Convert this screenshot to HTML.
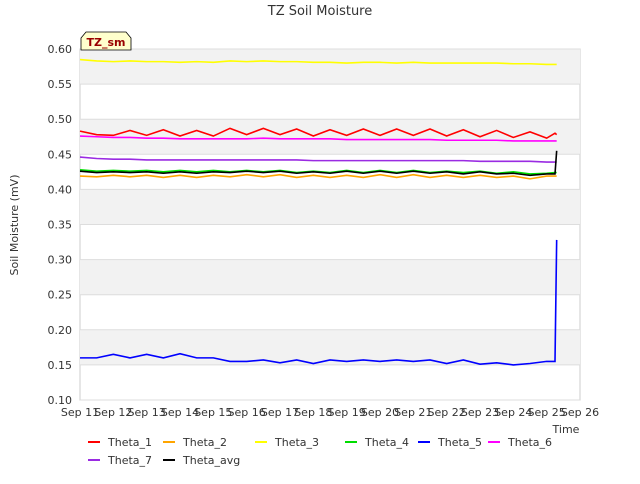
<!DOCTYPE html>
<html><head><meta charset="utf-8"><style>body{margin:0;background:#fff;font-family:"DejaVu Sans","Liberation Sans",sans-serif}</style></head>
<body>
<svg id="c" width="640" height="480" font-family="DejaVu Sans, Liberation Sans, sans-serif"></svg>
<script>
const times=[11,11.5,12,12.5,13,13.5,14,14.5,15,15.5,16,16.5,17,17.5,18,18.5,19,19.5,20,20.5,21,21.5,22,22.5,23,23.5,24,24.5,25,25.25,25.3];
const theta1=[0.483,0.478,0.477,0.484,0.477,0.485,0.476,0.484,0.476,0.487,0.478,0.487,0.478,0.486,0.476,0.485,0.477,0.486,0.477,0.486,0.477,0.486,0.476,0.485,0.475,0.484,0.474,0.482,0.473,0.480,0.478];
const theta2=[0.419,0.418,0.420,0.418,0.420,0.417,0.420,0.417,0.420,0.418,0.421,0.418,0.421,0.417,0.420,0.417,0.420,0.417,0.421,0.417,0.421,0.417,0.420,0.417,0.420,0.417,0.419,0.415,0.419,0.419,0.419];
const theta3=[0.585,0.583,0.582,0.583,0.582,0.582,0.581,0.582,0.581,0.583,0.582,0.583,0.582,0.582,0.581,0.581,0.580,0.581,0.581,0.580,0.581,0.580,0.580,0.580,0.580,0.580,0.579,0.579,0.578,0.578,0.578];
const theta4=[0.428,0.426,0.427,0.426,0.427,0.425,0.427,0.425,0.427,0.425,0.427,0.425,0.427,0.424,0.426,0.424,0.427,0.424,0.427,0.424,0.427,0.424,0.426,0.424,0.426,0.423,0.425,0.422,0.423,0.424,0.424];
const theta5=[0.160,0.160,0.165,0.160,0.165,0.160,0.166,0.160,0.160,0.155,0.155,0.157,0.153,0.157,0.152,0.157,0.155,0.157,0.155,0.157,0.155,0.157,0.152,0.157,0.151,0.153,0.150,0.152,0.155,0.155,0.328];
const theta6=[0.476,0.475,0.474,0.474,0.473,0.473,0.472,0.472,0.472,0.472,0.472,0.473,0.472,0.472,0.472,0.472,0.471,0.471,0.471,0.471,0.471,0.471,0.470,0.470,0.470,0.470,0.469,0.469,0.469,0.469,0.469];
const theta7=[0.446,0.444,0.443,0.443,0.442,0.442,0.442,0.442,0.442,0.442,0.442,0.442,0.442,0.442,0.441,0.441,0.441,0.441,0.441,0.441,0.441,0.441,0.441,0.441,0.440,0.440,0.440,0.440,0.439,0.439,0.439];
const thetaAvg=[0.426,0.424,0.425,0.424,0.425,0.423,0.425,0.423,0.425,0.424,0.426,0.424,0.426,0.423,0.425,0.423,0.426,0.423,0.426,0.423,0.426,0.423,0.425,0.422,0.425,0.422,0.423,0.420,0.422,0.422,0.455];
const yTicks=[0.10,0.15,0.20,0.25,0.30,0.35,0.40,0.45,0.50,0.55,0.60];
const xTicks=[11,12,13,14,15,16,17,18,19,20,21,22,23,24,25,26];
const series=[["Theta_1",theta1,"#ff0000"],["Theta_2",theta2,"#ffa500"],["Theta_3",theta3,"#ffff00"],["Theta_4",theta4,"#00dd00"],["Theta_5",theta5,"#0000ff"],["Theta_6",theta6,"#ff00ff"],["Theta_7",theta7,"#9a2be2"],["Theta_avg",thetaAvg,"#000000"]];
const L=80,R=580,T=49,B=400;
const X=t=>L+(t-11)/15*(R-L), Y=v=>B-(v-0.10)/0.5*(B-T);
const svg=document.getElementById('c'),NS='http://www.w3.org/2000/svg';
function mk(tag,a,p){const e=document.createElementNS(NS,tag);for(const k in a)e.setAttribute(k,a[k]);(p||svg).appendChild(e);return e;}
const plot=mk('rect',{x:L,y:T,width:R-L,height:B-T,fill:'#fff',stroke:'#ccc'});


for(let i=0;i<yTicks.length-1;i++){if(i%2===1){const r=mk('rect',{x:L,y:Y(yTicks[i+1]),width:R-L,height:Y(yTicks[i])-Y(yTicks[i+1]),fill:'#f2f2f2'});}}
yTicks.forEach(v=>{const g=mk('line',{x1:L,x2:R,y1:Y(v),y2:Y(v),stroke:'#ddd'});
const t=mk('text',{x:L-8,y:Y(v)+4,'text-anchor':'end','font-size':11,fill:'#333'});t.textContent=v.toFixed(2);});
xTicks.forEach(d=>{const t=mk('text',{x:X(d),y:B+16,'text-anchor':'middle','font-size':11,fill:'#333'});t.textContent='Sep '+d;});
series.forEach(([n,vals,c])=>{const p=mk('polyline',{points:vals.map((v,i)=>X(times[i])+','+Y(v)).join(' '),fill:'none',stroke:c,'stroke-width':1.6});});
const bx=mk('path',{d:'M81,50 L81,38 L86,32 L126,32 L131,38 L131,50 Z',fill:'#ffffcc',stroke:'#000','stroke-width':0.8});
const st=mk('text',{x:106,y:46,'text-anchor':'middle','font-size':11,'font-weight':'bold',fill:'#990000'});st.textContent='TZ_sm';
const ti=mk('text',{x:320,y:15,'text-anchor':'middle','font-size':13,fill:'#333'});ti.textContent='TZ Soil Moisture';
const yt=mk('text',{x:18,y:225,'text-anchor':'middle','font-size':11,fill:'#333',transform:'rotate(-90 18 225)'});yt.textContent='Soil Moisture (mV)';
const xt=mk('text',{x:566,y:433,'text-anchor':'middle','font-size':11,fill:'#333'});xt.textContent='Time';
const lx=[88,163,255,345,418,488,88,163];
series.forEach(([n,v,c],i)=>{const y=i<6?442:460;const g=mk('g',{});
mk('line',{x1:lx[i],x2:lx[i]+12,y1:y,y2:y,stroke:c,'stroke-width':2},g);const t=mk('text',{x:lx[i]+20,y:y+4,'font-size':11,fill:'#333'},g);t.textContent=n;});
</script>
</body></html>
